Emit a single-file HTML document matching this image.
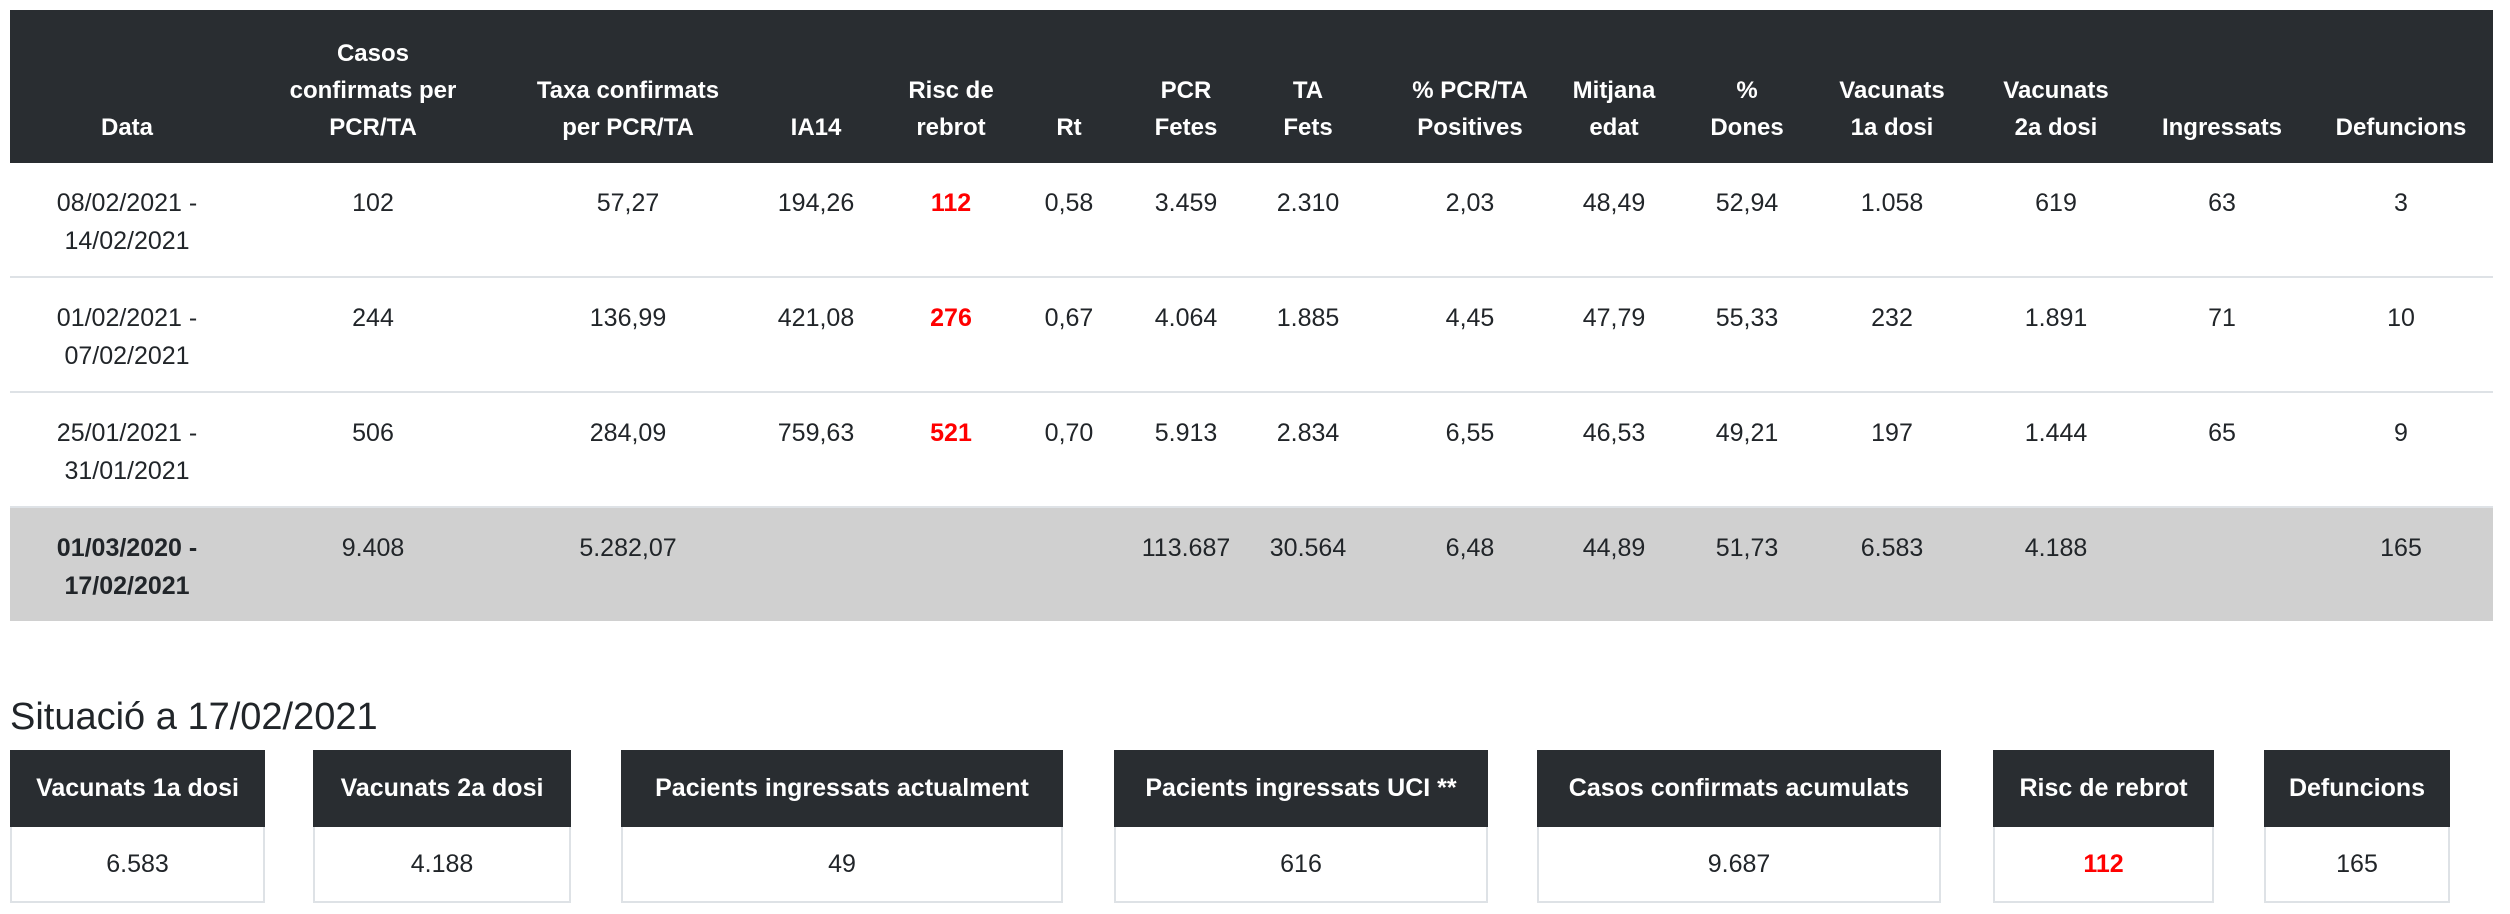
<!DOCTYPE html>
<html><head><meta charset="utf-8">
<style>
body{margin:0;width:2510px;height:914px;background:#fff;font-family:"Liberation Sans",sans-serif;color:#212529;position:relative;overflow:hidden}
.abs{position:absolute}
.hdr{position:absolute;left:10px;top:10px;width:2483px;height:153px;background:#292d31}
.th{position:absolute;color:#fff;font-weight:bold;font-size:24px;line-height:37px;text-align:center;white-space:nowrap;transform:translateX(-50%);bottom:0}
.row{position:absolute;left:10px;width:2483px}
.td{position:absolute;font-size:25px;line-height:38px;text-align:center;white-space:nowrap;transform:translateX(-50%)}
.red{color:#f00;font-weight:bold}
.card{position:absolute;top:750px;height:153px;border:2px solid #dee2e6;border-top:none;box-sizing:border-box}
.card .ch{position:absolute;left:-2px;right:-2px;top:0;height:77px;background:#292d31;color:#fff;font-weight:bold;font-size:25px;display:flex;align-items:center;justify-content:center;white-space:nowrap}
.card .cv{position:absolute;left:0;right:0;top:77px;bottom:0;display:flex;align-items:center;justify-content:center;font-size:25px}
</style></head>
<body>
<div class="hdr">
</div>
<div id="tbl"></div>
<div class="abs" style="left:10px;top:694px;font-size:38px;line-height:46px;color:#212529">Situació a 17/02/2021</div>
<div id="cards"></div>
<script>
const colX=[127,373,628,816,951,1069,1186,1308,1470,1614,1747,1892,2056,2222,2401];
const headers=[["Data"],["Casos","confirmats per","PCR/TA"],["Taxa confirmats","per PCR/TA"],["IA14"],["Risc de","rebrot"],["Rt"],["PCR","Fetes"],["TA","Fets"],["% PCR/TA","Positives"],["Mitjana","edat"],["%","Dones"],["Vacunats","1a dosi"],["Vacunats","2a dosi"],["Ingressats"],["Defuncions"]];
const rows=[
[["08/02/2021 -","14/02/2021"],"102","57,27","194,26","112","0,58","3.459","2.310","2,03","48,49","52,94","1.058","619","63","3"],
[["01/02/2021 -","07/02/2021"],"244","136,99","421,08","276","0,67","4.064","1.885","4,45","47,79","55,33","232","1.891","71","10"],
[["25/01/2021 -","31/01/2021"],"506","284,09","759,63","521","0,70","5.913","2.834","6,55","46,53","49,21","197","1.444","65","9"],
[["01/03/2020 -","17/02/2021"],"9.408","5.282,07","","","","113.687","30.564","6,48","44,89","51,73","6.583","4.188","","165"]
];
const hdr=document.querySelector('.hdr');
headers.forEach((h,i)=>{
  const d=document.createElement('div');
  d.className='th';
  
  
  d.style.left=(colX[i]-10)+'px';
  d.style.bottom='17px';
  d.innerHTML=h.join('<br>');
  hdr.appendChild(d);
});
const tbl=document.getElementById('tbl');
const rowTop=[163,278,393,508];
rows.forEach((r,ri)=>{
  const rw=document.createElement('div');
  rw.className='row';
  
  
  rw.style.top=rowTop[ri]+'px';
  rw.style.height='115px';
  if(ri==3){rw.style.background='#d0d0d0';rw.style.height='113px';}
  else rw.style.borderBottom='2px solid #dee2e6';
  rw.style.boxSizing='border-box';
  r.forEach((v,ci)=>{
    const c=document.createElement('div');
    c.className='td';
    
    
    c.style.left=(colX[ci]-10)+'px';
    c.style.top='21px';
    if(Array.isArray(v)){c.innerHTML=v.join('<br>');if(ri==3)c.style.fontWeight='bold';}
    else c.textContent=v;
    if(ci==4)c.classList.add('red');
    rw.appendChild(c);
  });
  tbl.appendChild(rw);
});
const cardL=[10,313,621,1114,1537,1993,2264];
const cardR=[265,571,1063,1488,1941,2214,2450];
const cardT=["Vacunats 1a dosi","Vacunats 2a dosi","Pacients ingressats actualment","Pacients ingressats UCI **","Casos confirmats acumulats","Risc de rebrot","Defuncions"];
const cardV=["6.583","4.188","49","616","9.687","112","165"];
const cards=document.getElementById('cards');
cardT.forEach((t,i)=>{
  const c=document.createElement('div');
  c.className='card';
  
  
  c.style.left=cardL[i]+'px';
  c.style.width=(cardR[i]-cardL[i])+'px';
  const h=document.createElement('div');
  h.className='ch';
  
  
  h.textContent=t;
  const v=document.createElement('div');
  v.className='cv';
  
  
  v.textContent=cardV[i];
  if(i==5)v.classList.add('red');
  c.appendChild(h);c.appendChild(v);
  cards.appendChild(c);
});
</script>
</body></html>
